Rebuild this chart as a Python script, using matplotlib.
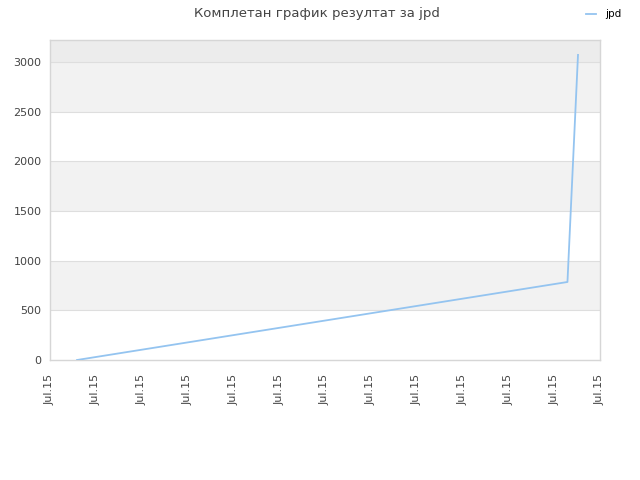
import matplotlib
matplotlib.use("Agg")
import matplotlib.pyplot as plt
from matplotlib.lines import Line2D

title = "Комплетан график резултат за jpd"
series_name = "jpd"
x_vals = [0.59, 11.29, 11.52]
y_vals = [0, 785, 3070]
tick_labels = ["Jul.15"] * 13
y_ticks = [0, 500, 1000, 1500, 2000, 2500, 3000]
y_max = 3220

fig = plt.figure(figsize=(6.4, 4.8), dpi=100)
ax = fig.add_axes([50/640, 1-360/480, 550/640, 320/480])

# alternating bands
for lo, hi in [(500, 1000), (1500, 2000), (2500, 3000)]:
    ax.axhspan(lo, hi, color="#f2f2f2", zorder=0, lw=0)
ax.axhspan(3000, y_max, color="#ececec", zorder=0, lw=0)
for yt in y_ticks[1:]:
    ax.axhline(yt, color="#dedede", lw=0.8, zorder=1)

ax.plot(x_vals, y_vals, color="#94c4f0", lw=1.3, zorder=3)

ax.set_xlim(0, 12)
ax.set_ylim(0, y_max)
ax.set_xticks(range(13))
ax.set_xticklabels(tick_labels, rotation=90, fontsize=8, color="#444444")
ax.set_yticks(y_ticks)
ax.set_yticklabels([str(v) for v in y_ticks], fontsize=8, color="#444444")
ax.tick_params(axis="y", length=0, pad=6)
ax.tick_params(axis="x", length=0, pad=10)
for s in ax.spines.values():
    s.set_color("#d6d6d6")
    s.set_linewidth(1)

fig.text(0.495, 1-13/480, title, ha="center", va="center", fontsize=9.5, color="#444444")
handle = Line2D([0], [0], color="#94c4f0", lw=1.3)
fig.legend([handle], [series_name], loc="upper right", bbox_to_anchor=(0.985, 1.0),
           frameon=False, fontsize=7.5, handlelength=1.0, handletextpad=0.8)

fig.savefig("out.png", dpi=100)
